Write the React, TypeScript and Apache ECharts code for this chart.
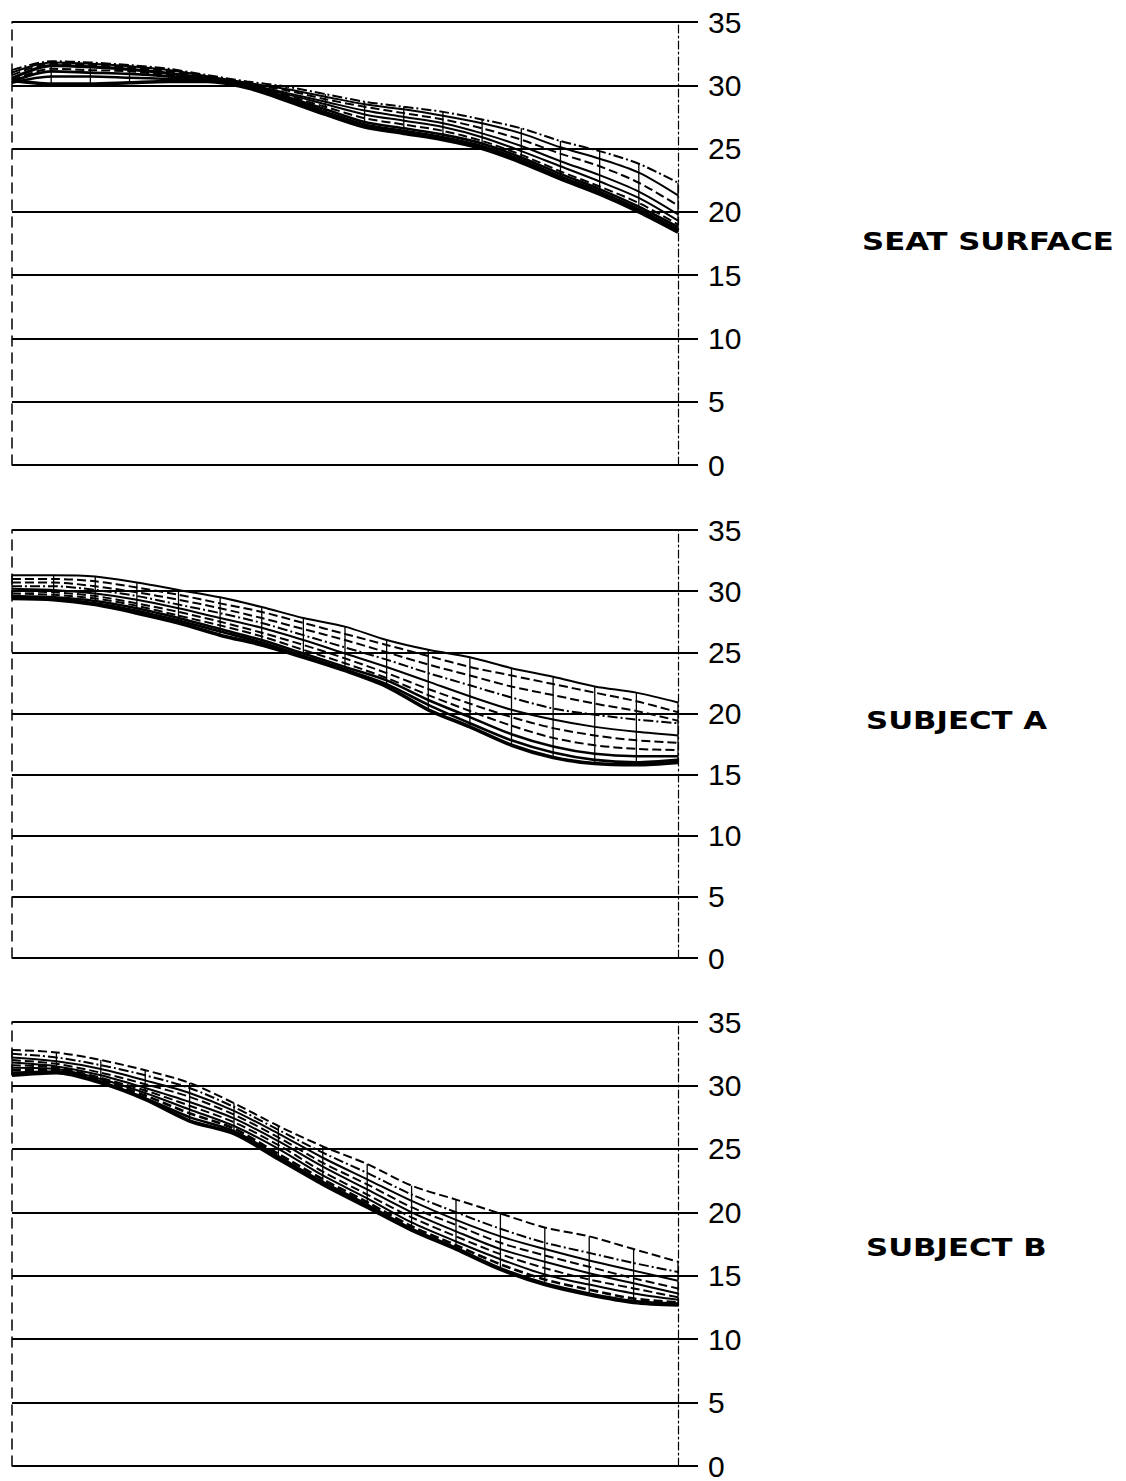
import React, { useEffect, useRef } from "react";
import * as echarts from "echarts";

// y-axis tick labels (shared by all three panels)
const yTicks = [0, 5, 10, 15, 20, 25, 30, 35];

// Panel titles
const panelTitles = ["SEAT SURFACE", "SUBJECT A", "SUBJECT B"];

// SEAT SURFACE — 18 stations
const seatC1 = [31.2, 31.9, 31.8, 31.6, 31.3, 30.8, 30.3, 29.9, 29.3, 28.7, 28.3, 27.9, 27.3, 26.6, 25.6, 24.8, 23.8, 22.3];
const seatC2 = [31.0, 31.8, 31.7, 31.5, 31.2, 30.7, 30.2, 29.7, 29.1, 28.5, 28.1, 27.6, 27.0, 26.2, 25.1, 24.2, 23.1, 21.3];
const seatC3 = [30.8, 31.7, 31.6, 31.4, 31.1, 30.6, 30.1, 29.6, 28.9, 28.3, 27.8, 27.3, 26.6, 25.7, 24.6, 23.6, 22.3, 20.5];
const seatC4 = [30.6, 31.6, 31.5, 31.3, 31.0, 30.6, 30.1, 29.4, 28.7, 28.0, 27.5, 27.0, 26.2, 25.2, 24.0, 22.9, 21.6, 19.8];
const seatC5 = [30.5, 31.5, 31.4, 31.2, 30.9, 30.5, 30.0, 29.3, 28.5, 27.7, 27.2, 26.7, 25.9, 24.8, 23.6, 22.4, 21.1, 19.3];
const seatC6 = [30.4, 31.3, 31.2, 31.1, 30.8, 30.5, 30.0, 29.2, 28.3, 27.4, 26.9, 26.4, 25.6, 24.5, 23.2, 22.0, 20.7, 19.0];
const seatC7 = [30.3, 31.1, 31.0, 30.9, 30.7, 30.4, 29.9, 29.1, 28.1, 27.1, 26.6, 26.1, 25.4, 24.3, 23.0, 21.8, 20.4, 18.8];
const seatC8 = [30.2, 30.7, 30.7, 30.6, 30.5, 30.4, 29.9, 29.0, 27.9, 26.9, 26.4, 25.9, 25.2, 24.1, 22.8, 21.6, 20.2, 18.6];
const seatC9 = [30.4, 30.1, 30.1, 30.2, 30.3, 30.3, 29.8, 28.8, 27.7, 26.7, 26.2, 25.7, 25.0, 23.9, 22.6, 21.4, 20.0, 18.4];

// SUBJECT A — 17 stations
const subjAC1 = [31.3, 31.3, 31.2, 30.7, 30.1, 29.5, 28.7, 27.8, 27.1, 26.0, 25.2, 24.6, 23.7, 23.0, 22.2, 21.7, 20.9];
const subjAC2 = [31.0, 31.0, 30.8, 30.3, 29.7, 29.0, 28.3, 27.4, 26.5, 25.6, 24.7, 23.8, 23.1, 22.4, 21.7, 21.0, 20.1];
const subjAC3 = [30.7, 30.7, 30.4, 29.9, 29.3, 28.6, 27.8, 26.9, 26.0, 25.0, 24.0, 23.1, 22.2, 21.5, 20.8, 20.2, 19.4];
const subjAC4 = [30.4, 30.4, 30.1, 29.6, 28.9, 28.2, 27.4, 26.4, 25.4, 24.4, 23.3, 22.3, 21.3, 20.4, 19.9, 19.5, 19.2];
const subjAC5 = [30.2, 30.1, 29.8, 29.3, 28.6, 27.8, 27.0, 26.0, 24.9, 23.8, 22.6, 21.4, 20.3, 19.5, 18.9, 18.5, 18.2];
const subjAC6 = [30.0, 29.9, 29.6, 29.0, 28.3, 27.5, 26.6, 25.6, 24.5, 23.3, 22.0, 20.8, 19.7, 18.8, 18.2, 17.8, 17.6];
const subjAC7 = [29.8, 29.7, 29.4, 28.8, 28.0, 27.2, 26.3, 25.2, 24.1, 22.9, 21.5, 20.2, 19.0, 18.0, 17.4, 17.1, 17.0];
const subjAC8 = [29.6, 29.5, 29.2, 28.6, 27.8, 26.9, 26.0, 24.9, 23.8, 22.7, 21.1, 19.7, 18.3, 17.3, 16.7, 16.5, 16.5];
const subjAC9 = [29.5, 29.4, 29.0, 28.4, 27.6, 26.7, 25.8, 24.7, 23.6, 22.4, 20.7, 19.2, 17.8, 16.8, 16.2, 16.0, 16.2];
const subjAC10 = [29.4, 29.3, 28.9, 28.2, 27.4, 26.4, 25.6, 24.6, 23.5, 22.2, 20.3, 18.9, 17.4, 16.4, 15.9, 15.8, 16.0];

// SUBJECT B — 16 stations
const subjBC1 = [32.8, 32.6, 32.0, 31.2, 30.2, 28.6, 26.8, 25.2, 23.8, 22.1, 21.0, 19.9, 18.8, 18.1, 17.1, 16.1];
const subjBC2 = [32.5, 32.2, 31.6, 30.8, 29.8, 28.3, 26.5, 24.7, 23.1, 21.4, 20.0, 18.7, 17.6, 16.8, 16.0, 15.3];
const subjBC3 = [32.2, 31.9, 31.3, 30.4, 29.4, 28.0, 26.2, 24.3, 22.6, 20.9, 19.4, 18.1, 17.1, 16.2, 15.4, 14.6];
const subjBC4 = [32.0, 31.7, 31.0, 30.1, 29.1, 27.7, 25.9, 23.9, 22.2, 20.4, 19.0, 17.6, 16.6, 15.7, 14.8, 14.0];
const subjBC5 = [31.8, 31.5, 30.8, 29.8, 28.7, 27.4, 25.6, 23.6, 21.8, 20.0, 18.5, 17.1, 16.1, 15.2, 14.4, 13.6];
const subjBC6 = [31.6, 31.4, 30.6, 29.6, 28.4, 27.1, 25.3, 23.2, 21.4, 19.6, 18.1, 16.7, 15.6, 14.7, 14.0, 13.3];
const subjBC7 = [31.4, 31.3, 30.5, 29.4, 28.1, 26.8, 25.0, 22.9, 21.1, 19.2, 17.7, 16.3, 15.1, 14.3, 13.6, 13.1];
const subjBC8 = [31.2, 31.2, 30.4, 29.2, 27.8, 26.6, 24.6, 22.6, 20.8, 18.9, 17.4, 15.9, 14.7, 13.9, 13.2, 12.9];
const subjBC9 = [31.0, 31.1, 30.3, 29.0, 27.5, 26.4, 24.4, 22.4, 20.6, 18.7, 17.2, 15.6, 14.4, 13.6, 13.0, 12.8];
const subjBC10 = [30.8, 31.0, 30.2, 28.9, 27.2, 26.2, 24.2, 22.2, 20.4, 18.6, 17.1, 15.5, 14.3, 13.5, 12.9, 12.7];

const seatCurves = [seatC1, seatC2, seatC3, seatC4, seatC5, seatC6, seatC7, seatC8, seatC9];
const subjACurves = [subjAC1, subjAC2, subjAC3, subjAC4, subjAC5, subjAC6, subjAC7, subjAC8, subjAC9, subjAC10];
const subjBCurves = [subjBC1, subjBC2, subjBC3, subjBC4, subjBC5, subjBC6, subjBC7, subjBC8, subjBC9, subjBC10];

// layout (styles only)
const panelLayout = [
  { top: 22, height: 443, titleY: 242, dashes: ["dotdash", "solid", "dashed", "solid", "solid", "dashed", "solid", "solid", "solid"] },
  { top: 530, height: 428, titleY: 721, dashes: ["solid", "dashed", "dashed", "dotdash", "solid", "dashed", "dashed", "solid", "solid", "solid"] },
  { top: 1022, height: 445, titleY: 1248, dashes: ["dashed", "dotdash", "solid", "dashed", "solid", "dashed", "solid", "dashed", "solid", "solid"] },
];

const dashMap: Record<string, any> = {
  solid: "solid",
  dashed: [9, 4],
  dotdash: [10, 3, 2, 3],
};

export default function App() {
  const ref = useRef<HTMLDivElement>(null);

  useEffect(() => {
    if (!ref.current) return;
    const chart = echarts.init(ref.current, null, { renderer: "svg" });
    const panels = [seatCurves, subjACurves, subjBCurves];

    const grids: any[] = [];
    const xAxes: any[] = [];
    const yAxes: any[] = [];
    const series: any[] = [];
    const graphics: any[] = [];

    const yMin = yTicks[0];
    const yMax = yTicks[yTicks.length - 1];
    const yInt = yTicks[1] - yTicks[0];

    panels.forEach((curves, p) => {
      const lay = panelLayout[p];
      const nStations = curves[0].length;
      grids.push({ left: 12, top: lay.top, width: 666, height: lay.height });
      xAxes.push({
        type: "value",
        gridIndex: p,
        min: 0,
        max: nStations - 1,
        show: false,
      });
      // right labelled axis
      yAxes.push({
        type: "value",
        gridIndex: p,
        position: "right",
        min: yMin,
        max: yMax,
        interval: yInt,
        axisLine: { show: true, onZero: false, lineStyle: { color: "#000", width: 1.2, type: [8, 3, 2, 3] } },
        axisTick: { show: true, length: 20, lineStyle: { color: "#000", width: 2 } },
        axisLabel: {
          margin: 30,
          color: "#000",
          fontSize: 30,
          lineHeight: 24,
          fontFamily: "'Liberation Sans', Arial, sans-serif",
        },
        splitLine: { show: true, lineStyle: { color: "#000", width: 2 } },
      });
      // left plain axis
      yAxes.push({
        type: "value",
        gridIndex: p,
        position: "left",
        min: yMin,
        max: yMax,
        interval: yInt,
        axisLine: { show: true, onZero: false, lineStyle: { color: "#000", width: 1.5, type: [10, 7] } },
        axisTick: { show: true, inside: true, length: 4, lineStyle: { color: "#000", width: 2 } },
        axisLabel: { show: false },
        splitLine: { show: false },
      });

      const yIdx = p * 2;
      curves.forEach((c, k) => {
        series.push({
          type: "line",
          xAxisIndex: p,
          yAxisIndex: yIdx,
          data: c.map((v, i) => [i, v]),
          smooth: 0.3,
          symbol: "none",
          silent: true,
          lineStyle: {
            color: "#000",
            width: k === curves.length - 1 ? 3.6 : k >= curves.length - 3 ? 2.6 : 2.0,
            type: dashMap[lay.dashes[k]],
          },
        });
      });

      // mesh verticals between the top and bottom curve at every station
      const top = curves[0];
      const bottom = curves[curves.length - 1];
      series.push({
        type: "custom",
        xAxisIndex: p,
        yAxisIndex: yIdx,
        silent: true,
        encode: { x: 0, y: [1, 2] },
        data: top.map((v, i) => [i, v, bottom[i]]),
        renderItem: (params: any, api: any) => {
          const a = api.coord([api.value(0), api.value(1)]);
          const b = api.coord([api.value(0), api.value(2)]);
          return {
            type: "line",
            shape: { x1: a[0], y1: a[1], x2: b[0], y2: b[1] },
            style: { stroke: "#000", lineWidth: 1.3 },
          };
        },
      });

      graphics.push({
        type: "text",
        x: p === 0 ? 862 : 866,
        y: lay.titleY,
        scaleX: 1.23,
        style: {
          text: panelTitles[p],
          fill: "#000",
          fontSize: 25,
          fontWeight: "bold",
          fontFamily: "'DejaVu Sans', sans-serif",
          align: "left",
          verticalAlign: "middle",
        },
      });
    });

    chart.setOption({
      animation: false,
      backgroundColor: "#fff",
      grid: grids,
      xAxis: xAxes,
      yAxis: yAxes,
      series,
      graphic: graphics,
    });

    return () => chart.dispose();
  }, []);

  return (
    <div
      ref={ref}
      style={{ position: "absolute", left: 0, top: 0, width: 1126, height: 1481, background: "#fff" }}
    />
  );
}
